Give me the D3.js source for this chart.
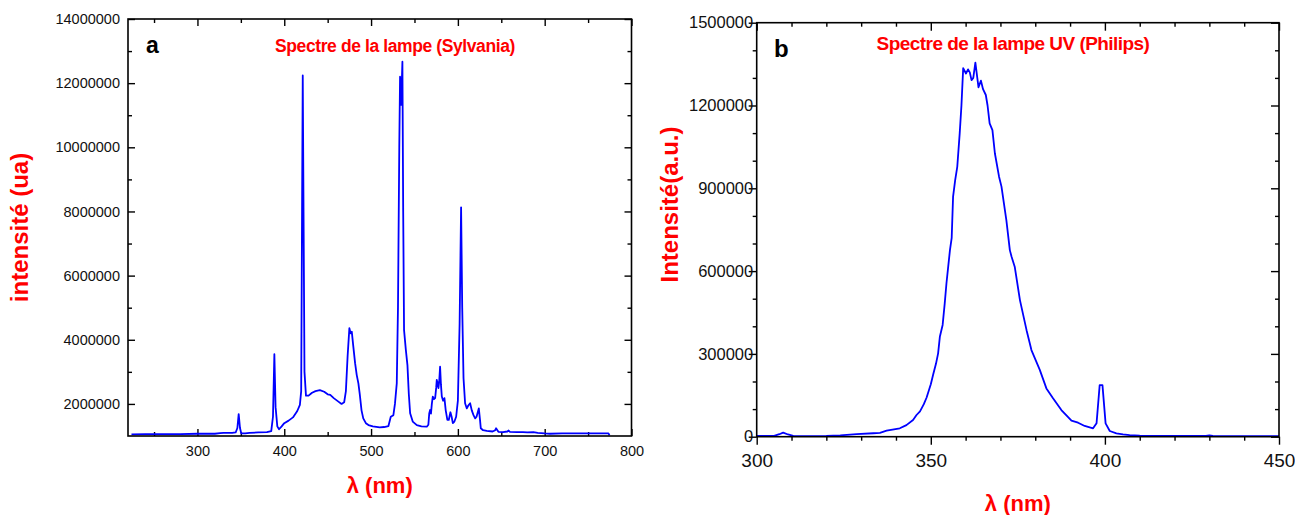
<!DOCTYPE html>
<html>
<head>
<meta charset="utf-8">
<script src="https://cdn.jsdelivr.net/npm/d3@7"></script>
<style>
html,body{margin:0;padding:0;background:#fff;}
svg{display:block;}
text{font-family:"Liberation Sans",Arial,sans-serif;}
</style>
</head>
<body>
<svg id="chart" width="1295" height="515"></svg>
<script>
// ---------- DATA ----------
const aWavelength = [224,240,260,280,300,320,326,330,340,344,346,347.5,349,350.5,355,360,370,380,385,387,388.6,390,392,394,397,400,405,410,415,418,419.5,420.5,421.3,422.2,423.3,425,428,432,436,441,446,450,453,457,462,466,469,471,473,475,476.5,477.8,479.5,481.6,483.5,485.4,487,489,491,494,497,502,510,515,520,522.7,525.7,527.5,529.6,531,532.5,533.4,534.6,536.1,537,538,540,541.9,543.5,545,548,552.7,558,564.2,566,567,568,569,570,571.1,572.5,573.8,575,575.7,576.5,577.6,578.5,579.5,580.5,581.5,583,584.5,586,587.9,589.5,591.4,592.8,594.2,596,598,600,602,603.7,605,606.5,608.3,610.3,612,614.1,616,618,619.9,621.5,624.1,625.5,626.4,629,633.3,640,643,644,645.5,646.7,652,657,658.2,660,668,675,680,687,692,700,706,720,735,750,760,773.5,774.6];
const aIntensity = [1.05e6,1.06e6,1.06e6,1.06e6,1.07e6,1.07e6,1.09e6,1.10e6,1.10e6,1.11e6,1.25e6,1.68e6,1.25e6,1.08e6,1.08e6,1.10e6,1.11e6,1.12e6,1.15e6,1.6e6,3.55e6,1.9e6,1.3e6,1.21e6,1.3e6,1.4e6,1.48e6,1.58e6,1.78e6,1.97e6,2.4e6,8e6,12.24e6,8e6,3e6,2.26e6,2.26e6,2.35e6,2.40e6,2.43e6,2.38e6,2.30e6,2.28e6,2.18e6,2.08e6,2.0e6,2.05e6,2.4e6,3.5e6,4.36e6,4.2e6,4.25e6,3.8e6,3.27e6,2.9e6,2.64e6,2.3e6,1.8e6,1.55e6,1.40e6,1.34e6,1.30e6,1.27e6,1.28e6,1.31e6,1.6e6,1.65e6,2.0e6,2.64e6,5e6,10e6,12.2e6,11.32e6,12.67e6,8e6,4.3e6,3.7e6,3.21e6,2.3e6,1.71e6,1.45e6,1.34e6,1.30e6,1.29e6,1.35e6,1.7e6,1.81e6,1.7e6,2.0e6,2.23e6,2.15e6,2.18e6,2.5e6,2.75e6,2.65e6,2.49e6,2.7e6,3.16e6,2.6e6,2.23e6,2.1e6,2.18e6,1.8e6,1.5e6,1.5e6,1.74e6,1.6e6,1.4e6,1.45e6,1.6e6,2.1e6,4.5e6,8.13e6,5e6,2.8e6,2.02e6,1.86e6,1.95e6,2.02e6,1.8e6,1.65e6,1.55e6,1.6e6,1.86e6,1.5e6,1.24e6,1.18e6,1.16e6,1.14e6,1.18e6,1.24e6,1.18e6,1.13e6,1.12e6,1.14e6,1.17e6,1.13e6,1.12e6,1.12e6,1.11e6,1.12e6,1.10e6,1.08e6,1.07e6,1.08e6,1.08e6,1.08e6,1.08e6,1.08e6,1.02e6];

const bWavelength = [300,303,305,306.5,307.6,309,310.5,315,320,324,328.7,333.5,335.4,337.3,339,341.1,343,344.9,345.9,346.9,348,348.8,350,350.7,351.5,352.1,352.6,353.4,354,354.5,355,355.5,356,356.4,357,357.6,358.3,358.8,359.3,360.1,360.7,361.2,361.7,362.2,362.8,363.7,364.4,365.0,365.8,366.3,366.9,367.7,368.4,369.6,370.3,371.7,372.7,373.2,374.1,375.6,377.5,378.9,381.3,383.2,385.1,387.5,390.4,392.3,394.2,396.6,397.6,398.5,399.3,400.2,401.4,403.3,405.2,407.1,410,415,420,425,429,430,431,440,450];
const bIntensity = [2500,2500,3000,9000,14500,8000,3000,2000,3000,5000,9000,12500,14000,22000,26000,30400,42000,60500,78600,92000,118000,142000,190000,226000,265000,302000,362000,405000,483000,556000,616000,676000,720000,870000,930000,978000,1099000,1200000,1335000,1316000,1331000,1320000,1292000,1300000,1355000,1266000,1290000,1259000,1238000,1200000,1135000,1111000,1027000,942000,906000,785000,676000,652000,616000,495000,386000,314000,242000,175000,139000,96700,58000,50700,38800,30400,48500,187000,187000,48500,20600,12300,8700,6000,4000,3000,2500,2500,3000,5000,3000,2000,2000];

const aXTicks = [300,400,500,600,700,800];
const aXMinor = [250,350,450,550,650,750];
const aYTicks = [2e6,4e6,6e6,8e6,10e6,12e6,14e6];
const aYMinor = [3e6,5e6,7e6,9e6,11e6,13e6];
const bXTicks = [300,350,400,450];
const bXMinor = [310,320,330,340,360,370,380,390,410,420,430,440];
const bYTicks = [0,300000,600000,900000,1200000,1500000];
const bYMinor = [100000,200000,400000,500000,700000,800000,1000000,1100000,1300000,1400000];

const aTitle = "Spectre de la lampe (Sylvania)";
const bTitle = "Spectre de la lampe UV (Philips)";
const aYLabel = "intensité (ua)";
const bYLabel = "Intensité(a.u.)";
const xLabel = "λ (nm)";

// ---------- DRAW ----------
const svg = d3.select("#chart");
const fmt = d3.format("d");
const blue = "#0000ff", red = "#ff0000";

function panel(cfg) {
  const g = svg.append("g");
  const x = d3.scaleLinear().domain(cfg.xDomain).range([cfg.left, cfg.right]);
  const y = d3.scaleLinear().domain(cfg.yDomain).range([cfg.bottom, cfg.top]);
  const tickStyle = sel => { sel.select(".domain").remove(); sel.selectAll("line").attr("stroke","#000").attr("stroke-width",1.4); };

  const bs = cfg.bottomOut ? 1 : -1;
  g.append("g").attr("transform",`translate(0,${cfg.bottom})`)
    .call(d3.axisBottom(x).tickValues(cfg.xTicks).tickSize(bs*cfg.major).tickFormat(()=>"")).call(tickStyle);
  g.append("g").attr("transform",`translate(0,${cfg.bottom})`)
    .call(d3.axisBottom(x).tickValues(cfg.xMinor).tickSize(bs*cfg.minor).tickFormat(()=>"")).call(tickStyle);
  g.append("g").attr("transform",`translate(0,${cfg.top})`)
    .call(d3.axisTop(x).tickValues(cfg.xTicks).tickSize(-cfg.major).tickFormat(()=>"")).call(tickStyle);
  g.append("g").attr("transform",`translate(0,${cfg.top})`)
    .call(d3.axisTop(x).tickValues(cfg.xMinor).tickSize(-cfg.minor).tickFormat(()=>"")).call(tickStyle);
  const ls = cfg.leftOut ? 1 : -1;
  g.append("g").attr("transform",`translate(${cfg.left},0)`)
    .call(d3.axisLeft(y).tickValues(cfg.yTicks).tickSize(ls*cfg.major).tickFormat(()=>"")).call(tickStyle);
  g.append("g").attr("transform",`translate(${cfg.left},0)`)
    .call(d3.axisLeft(y).tickValues(cfg.yMinor).tickSize(ls*cfg.minor).tickFormat(()=>"")).call(tickStyle);
  g.append("g").attr("transform",`translate(${cfg.right},0)`)
    .call(d3.axisRight(y).tickValues(cfg.yTicks).tickSize(-cfg.major).tickFormat(()=>"")).call(tickStyle);
  g.append("g").attr("transform",`translate(${cfg.right},0)`)
    .call(d3.axisRight(y).tickValues(cfg.yMinor).tickSize(-cfg.minor).tickFormat(()=>"")).call(tickStyle);

  const xl = g.append("g").attr("transform",`translate(0,${cfg.bottom})`)
    .call(d3.axisBottom(x).tickValues(cfg.xTicks).tickSize(0).tickPadding(cfg.xPad).tickFormat(fmt));
  xl.select(".domain").remove();
  xl.selectAll("text").attr("font-size",cfg.xFont).attr("fill","#111")
    .attr("font-family",'"Liberation Sans",Arial,sans-serif');
  const yl = g.append("g").attr("transform",`translate(${cfg.left},0)`)
    .call(d3.axisLeft(y).tickValues(cfg.yTicks).tickSize(0).tickPadding(cfg.yPad).tickFormat(fmt));
  yl.select(".domain").remove();
  yl.selectAll("text").attr("font-size",cfg.yFont).attr("fill","#111")
    .attr("font-family",'"Liberation Sans",Arial,sans-serif');

  const data = cfg.xs.map((v,i)=>[v,cfg.ys[i]]);
  g.append("path").datum(data)
    .attr("fill","none").attr("stroke",blue).attr("stroke-width",1.8).attr("stroke-linejoin","round")
    .attr("d", d3.line().x(d=>x(d[0])).y(d=>y(d[1])));

  g.append("rect").attr("x",cfg.left).attr("y",cfg.top)
    .attr("width",cfg.right-cfg.left).attr("height",cfg.bottom-cfg.top)
    .attr("fill","none").attr("stroke","#000").attr("stroke-width",1.6);

  g.append("text").attr("x",cfg.letterX).attr("y",cfg.letterY).text(cfg.letter)
    .attr("font-size",cfg.letterFont).attr("font-weight","bold").attr("fill","#000");
  g.append("text").attr("x",cfg.titleX).attr("y",cfg.titleY).attr("text-anchor","middle")
    .attr("font-size",cfg.titleFont).attr("font-weight","bold").attr("fill",red)
    .attr("letter-spacing",cfg.titleLS).text(cfg.title);
  g.append("text").attr("x",(cfg.left+cfg.right)/2).attr("y",cfg.xLabelY).attr("text-anchor","middle")
    .attr("font-size",22).attr("font-weight","bold").attr("fill",red).text(xLabel);
  g.append("text").attr("transform",`translate(${cfg.yLabelX},${cfg.yLabelY}) rotate(-90)`)
    .attr("text-anchor","middle").attr("font-size",24).attr("font-weight","bold").attr("fill",red)
    .text(cfg.yLabel);
}

panel({
  xDomain:[220,800], yDomain:[1e6,14e6],
  left:128, right:631.5, top:19, bottom:436,
  xTicks:aXTicks, xMinor:aXMinor, yTicks:aYTicks, yMinor:aYMinor,
  major:7, minor:4, bottomOut:false, leftOut:false,
  xPad:10, yPad:8, xFont:14.5, yFont:14.5,
  xs:aWavelength, ys:aIntensity,
  letter:"a", letterX:146, letterY:53, letterFont:23,
  title:aTitle, titleX:395, titleY:52, titleFont:17.5, titleLS:-0.4,
  xLabelY:493, yLabelX:28, yLabelY:227.5, yLabel:aYLabel
});

panel({
  xDomain:[300,450], yDomain:[0,1500000],
  left:756.7, right:1279, top:22.7, bottom:436.7,
  xTicks:bXTicks, xMinor:bXMinor, yTicks:bYTicks, yMinor:bYMinor,
  major:8, minor:4, bottomOut:true, leftOut:true,
  xPad:16.5, yPad:3.5, xFont:19, yFont:16.5,
  xs:bWavelength, ys:bIntensity,
  letter:"b", letterX:774, letterY:57, letterFont:24,
  title:bTitle, titleX:1013, titleY:50, titleFont:19, titleLS:-0.55,
  xLabelY:511, yLabelX:678, yLabelY:204.5, yLabel:bYLabel
});
</script>
</body>
</html>
